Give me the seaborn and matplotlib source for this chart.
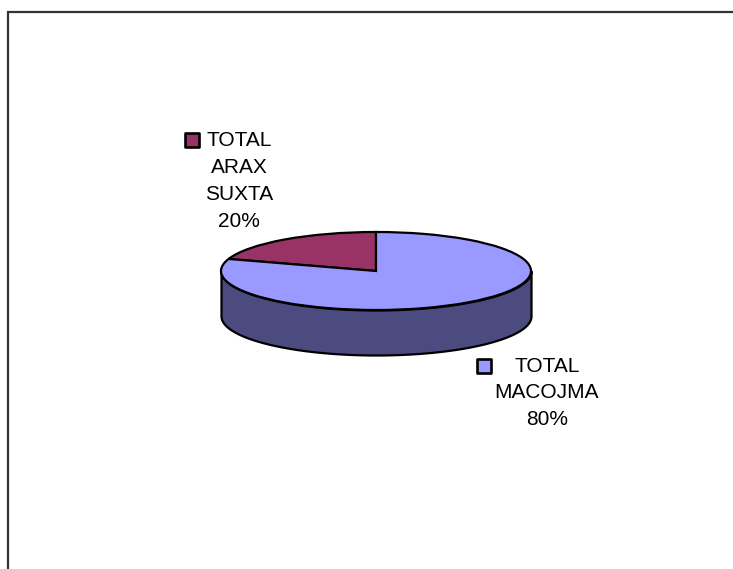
import numpy as np
import matplotlib
matplotlib.use("Agg")
import matplotlib.pyplot as plt
import seaborn as sns

# ---- data ----
categories = ["TOTAL\nARAX\nSUXTA", "TOTAL\nMACOJMA"]
values = [20, 80]
pct_labels = ["20%", "80%"]
top_colors = ["#993366", "#9999FF"]
side_colors = ["#4D1A33", "#4B4B80"]

sns.set_theme(style="white")
plt.rcParams["font.family"] = ["Liberation Sans", "DejaVu Sans"]

W, H, DPI = 733, 569, 100
fig = plt.figure(figsize=(W / DPI, H / DPI), dpi=DPI)
fig.patch.set_facecolor("white")

# pie geometry in pixels
cx, cy = 376, 271
rx, ry = 155, 39
depth = 45

ax = fig.add_axes([0, 0, 1, 1])
ax.set_zorder(1)

# side of the 3D pie (front half only is visible)
start = 90.0
total = float(sum(values))
angle = start
for v, sc in zip(values, side_colors):
    a0, a1 = angle, angle + 360.0 * v / total
    angle = a1
    for off in (0.0, 360.0, -360.0):
        lo = max(a0, 180.0 + off)
        hi = min(a1, 360.0 + off)
        if hi > lo:
            t = np.radians(np.linspace(lo, hi, 200))
            x = np.cos(t)
            ytop = np.sin(t)
            ax.fill_between(x, ytop, ytop - depth / ry, facecolor=sc,
                            edgecolor="black", linewidth=1.6, zorder=1)

wedges, _ = ax.pie(values, colors=top_colors, startangle=start,
                   counterclock=True, radius=1.0,
                   wedgeprops=dict(edgecolor="black", linewidth=1.6))
for w in wedges:
    w.set_zorder(2)

ax.set_aspect("auto")
ax.set_xlim(-cx / rx, (W - cx) / rx)
ax.set_ylim((cy - H) / ry, cy / ry)
ax.axis("off")

# overlay in pixel coordinates for frame and labels
ov = fig.add_axes([0, 0, 1, 1])
ov.set_zorder(3)
ov.set_xlim(0, W)
ov.set_ylim(H, 0)
ov.axis("off")
ov.patch.set_alpha(0)

# chart area border (extends beyond the image on right/bottom)
ov.plot([8, 8, W + 5], [H + 5, 12, 12], color="#333333", linewidth=1.6,
        solid_joinstyle="miter", clip_on=False)

fs = 15
label_specs = [
    dict(marker=(192, 140), cxl=239, baselines=[146, 173, 200, 227]),
    dict(marker=(483.5, 365.5), cxl=547, baselines=[372, 398, 425]),
]
for cat, pct, col, spec in zip(categories, pct_labels, top_colors, label_specs):
    mx, my = spec["marker"]
    ov.scatter([mx], [my], marker="s", s=95, facecolor=col,
               edgecolor="black", linewidth=1.9, zorder=4)
    lines = cat.split("\n") + [pct]
    for ln, by in zip(lines, spec["baselines"]):
        ov.text(spec["cxl"], by, ln, ha="center", va="baseline",
                fontsize=fs, color="black")

fig.savefig("out.png", dpi=DPI)
